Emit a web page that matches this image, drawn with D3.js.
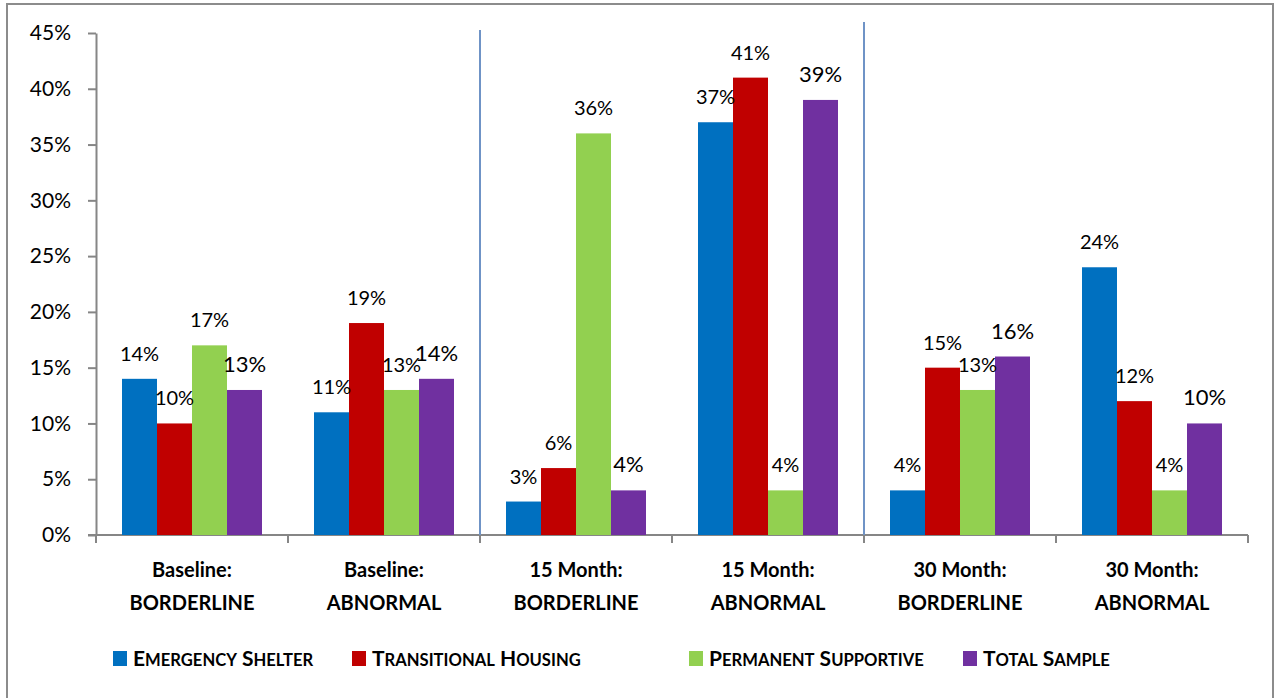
<!DOCTYPE html>
<html>
<head>
<meta charset="utf-8">
<script src="https://cdn.jsdelivr.net/npm/d3@7"></script>
<style>
  body { margin: 0; background: #fff; }
  svg { display: block; font-family: Lato, 'Open Sans', sans-serif; }
</style>
</head>
<body>
<div id="chart"></div>
<script>
const categories = [
  ['Baseline:', 'BORDERLINE'],
  ['Baseline:', 'ABNORMAL'],
  ['15 Month:', 'BORDERLINE'],
  ['15 Month:', 'ABNORMAL'],
  ['30 Month:', 'BORDERLINE'],
  ['30 Month:', 'ABNORMAL']
]
const seriesNames = ['Emergency Shelter', 'Transitional Housing', 'Permanent Supportive', 'Total Sample']
const emergencyShelter = [14, 11, 3, 37, 4, 24]
const transitionalHousing = [10, 19, 6, 41, 15, 12]
const permanentSupportive = [17, 13, 36, 4, 13, 4]
const totalSample = [13, 14, 4, 39, 16, 10]
const yTicks = [0, 5, 10, 15, 20, 25, 30, 35, 40, 45]

const colors = ['#0070c0', '#c00000', '#92d050', '#7030a0']
const series = [emergencyShelter, transitionalHousing, permanentSupportive, totalSample]

const width = 1276
const height = 698
const plot = { left: 96, right: 1248, top: 33, bottom: 535 }

const svg = d3.select('#chart').append('svg')
  .attr('width', width)
  .attr('height', height)

// outer frame
svg.append('rect')
  .attr('x', 7).attr('y', 4)
  .attr('width', 1266).attr('height', 720)
  .attr('fill', 'none')
  .attr('stroke', '#8c8c8c')
  .attr('stroke-width', 2)

const catKeys = categories.map(c => c.join(' '))

const x = d3.scaleBand()
  .domain(catKeys)
  .range([plot.left, plot.right])

const xInner = d3.scaleBand()
  .domain(d3.range(seriesNames.length))
  .range([26, x.bandwidth() - 26])

const y = d3.scaleLinear()
  .domain([0, 45])
  .range([plot.bottom, plot.top])

// y axis
const yAxis = svg.append('g')
  .attr('transform', `translate(${plot.left},0)`)
  .call(d3.axisLeft(y).tickValues(yTicks).tickFormat(d => d + '%').tickSize(8).tickSizeOuter(0).tickPadding(17))
yAxis.select('.domain').attr('stroke', '#868686').attr('stroke-width', 2)
yAxis.selectAll('.tick line').attr('stroke', '#868686').attr('stroke-width', 2)
yAxis.selectAll('.tick text')
  .attr('font-size', 21)
  .attr('fill', '#000')
  .attr('font-family', 'Lato, sans-serif')

// x axis line + boundary ticks
svg.append('line')
  .attr('x1', plot.left - 8).attr('x2', plot.right)
  .attr('y1', plot.bottom).attr('y2', plot.bottom)
  .attr('stroke', '#868686').attr('stroke-width', 2)

const boundaries = catKeys.map(k => x(k)).concat([plot.right])
svg.append('g').selectAll('line')
  .data(boundaries)
  .join('line')
  .attr('x1', d => d).attr('x2', d => d)
  .attr('y1', plot.bottom).attr('y2', plot.bottom + 8)
  .attr('stroke', '#868686').attr('stroke-width', 2)

// separators between periods
const separators = [{ key: catKeys[2], top: 30 }, { key: catKeys[4], top: 22 }]
svg.append('g').selectAll('line')
  .data(separators)
  .join('line')
  .attr('x1', d => x(d.key)).attr('x2', d => x(d.key))
  .attr('y1', d => d.top).attr('y2', plot.bottom)
  .attr('stroke', '#6f93c6').attr('stroke-width', 2)

// bars
const flat = []
catKeys.forEach((k, ci) => {
  series.forEach((s, si) => flat.push({ key: k, si, value: s[ci] }))
})

svg.append('g').selectAll('rect')
  .data(flat)
  .join('rect')
  .attr('x', d => x(d.key) + xInner(d.si))
  .attr('width', xInner.bandwidth())
  .attr('y', d => y(d.value))
  .attr('height', d => y(0) - y(d.value))
  .attr('fill', d => colors[d.si])

// value labels (total sample labels are drawn a bit larger)
svg.append('g').selectAll('text')
  .data(flat)
  .join('text')
  .attr('x', d => x(d.key) + xInner(d.si) + xInner.bandwidth() / 2)
  .attr('y', d => y(d.value) - 18)
  .attr('text-anchor', 'middle')
  .attr('font-size', d => d.si === 3 ? 22 : 20)
  .attr('fill', '#000')
  .text(d => d.value + '%')

// category labels
const catLabel = svg.append('g').selectAll('text')
  .data(categories)
  .join('text')
  .attr('text-anchor', 'middle')
  .attr('font-weight', 'bold')
  .attr('font-size', 20)
  .attr('fill', '#000')
catLabel.append('tspan')
  .attr('x', (d, i) => x(catKeys[i]) + x.bandwidth() / 2)
  .attr('y', 577)
  .text(d => d[0])
catLabel.append('tspan')
  .attr('x', (d, i) => x(catKeys[i]) + x.bandwidth() / 2)
  .attr('y', 610)
  .text(d => d[1])

// legend
const legendX = [113, 352, 689, 963]
const legend = svg.append('g').selectAll('g')
  .data(seriesNames)
  .join('g')
  .attr('transform', (d, i) => `translate(${legendX[i]},651)`)

legend.append('rect')
  .attr('width', 14).attr('height', 15)
  .attr('fill', (d, i) => colors[i])

const legendText = legend.append('text')
  .attr('x', 20)
  .attr('y', 15)
  .attr('font-weight', 'bold')
  .attr('fill', '#000')

legendText.each(function (name) {
  const t = d3.select(this)
  name.split(' ').forEach((word, wi) => {
    t.append('tspan').attr('font-size', 21).text((wi ? ' ' : '') + word[0].toUpperCase())
    t.append('tspan').attr('font-size', 16.6).text(word.slice(1).toUpperCase())
  })
})
</script>
</body>
</html>
